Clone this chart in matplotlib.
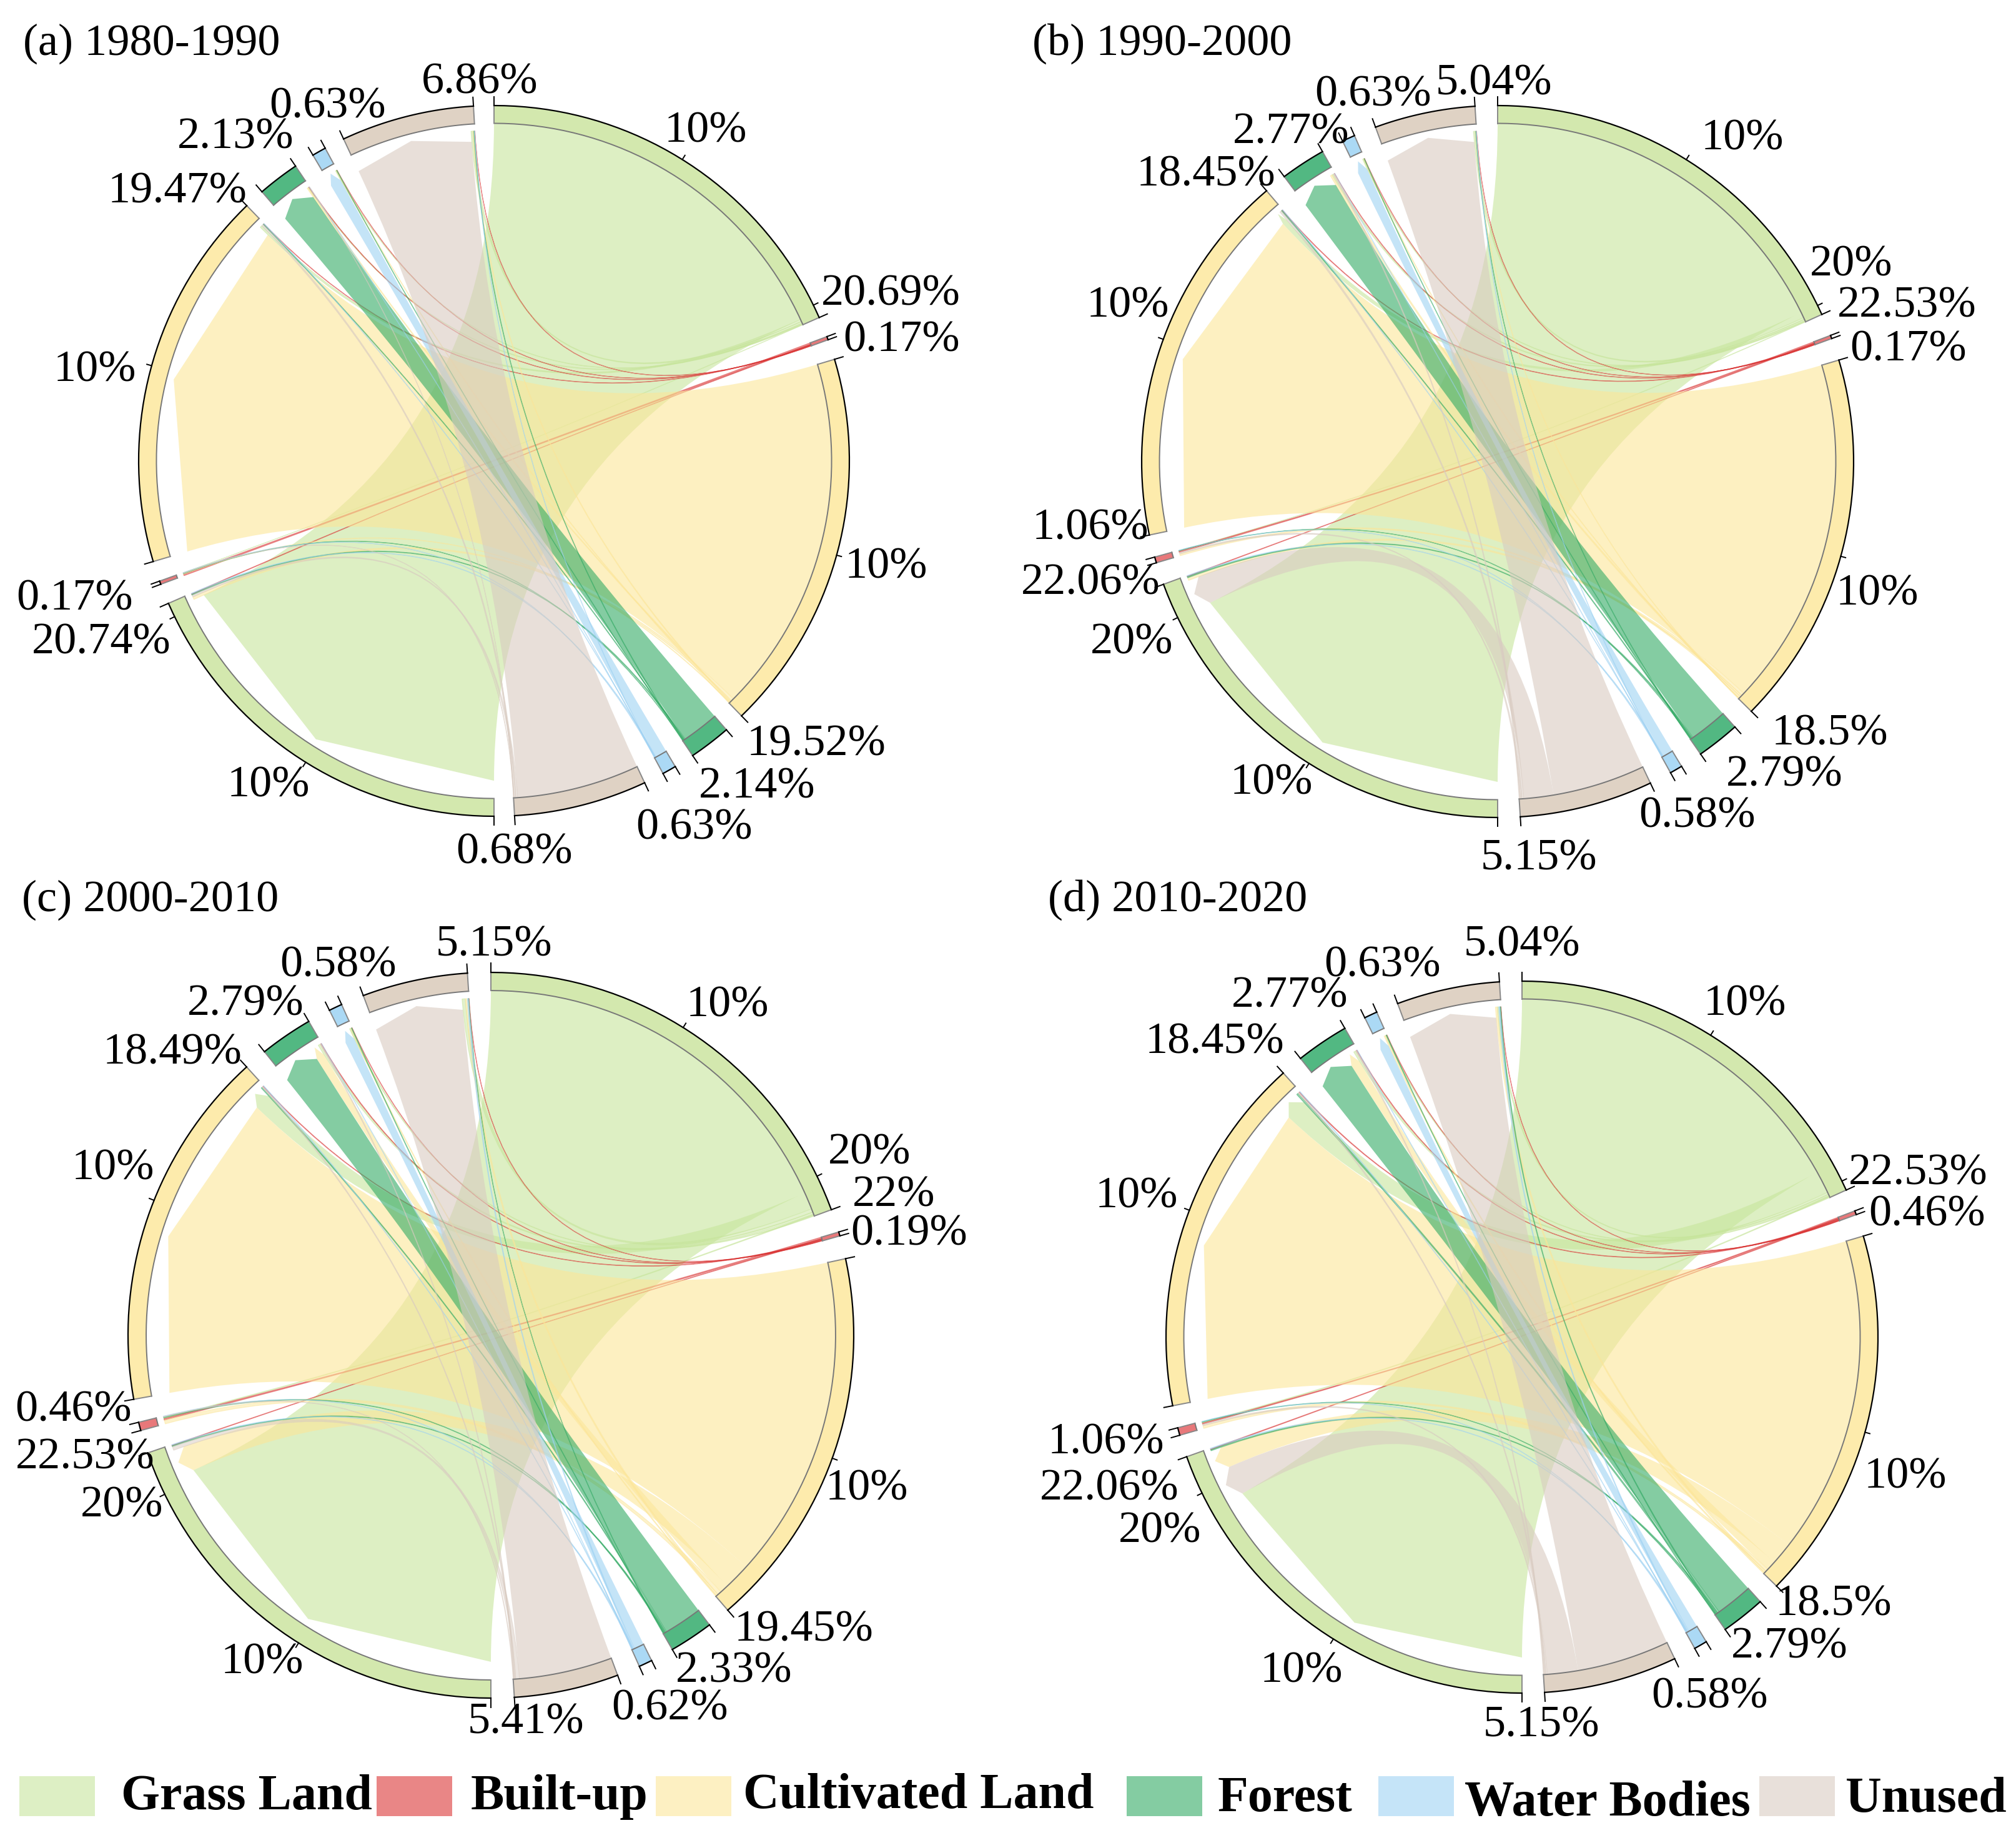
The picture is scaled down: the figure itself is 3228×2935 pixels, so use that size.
import numpy as np
import matplotlib
matplotlib.use('Agg')
import matplotlib.pyplot as plt
from matplotlib.path import Path
from matplotlib.patches import PathPatch, Rectangle

plt.rcParams['font.family'] = ['Liberation Serif', 'DejaVu Serif']

classes = ['Grass Land', 'Built-up', 'Cultivated Land', 'Forest', 'Water Bodies', 'Unused']
ring_colors = ['#D3E8AE', '#E8787A', '#FDEBAC', '#52B882', '#ABD9F5', '#DFD2C4']
chord_colors = ['#C7E59B', '#DA3535', '#FCE699', '#32AA64', '#9ED2F3', '#D9CBC1']
legend_colors = ['#DDEFC4', '#E98686', '#FDF0C2', '#84CCA2', '#C5E4F8', '#E8E0DA']

# rows: sectors on the right half, columns: sectors on the left half (% of area)
flow_a = [[20.38, .01, .12, .05, .03, .10],
          [.03, .08, .02, .02, .01, .01],
          [.15, .03, 19.2, .06, .03, .05],
          [.05, .02, .04, 1.98, .02, .03],
          [.03, .01, .02, .01, .62, .02],
          [.10, .02, .09, .01, 0, 6.58]]
flow_b = [[19.95, .02, .30, .08, .05, .10],
          [.03, .07, .03, .02, .01, .01],
          [.15, .10, 18.7, .10, .03, .02],
          [.06, .02, .05, 2.03, .02, .02],
          [.03, .01, .02, .01, .55, .02],
          [1.6, .08, .10, .06, 0, 4.96]]
flow_c = [[20.5, .05, .90, .12, .05, .18],
          [.03, .08, .03, .03, .015, .015],
          [1.4, .20, 17.0, .45, .05, .10],
          [.05, .04, .06, 2.0, .03, .02],
          [.03, .02, .03, .01, .52, .06],
          [.20, .03, .06, .04, 0, 4.9]]
flow_d = [[19.0, .05, 1.2, .12, .05, .08],
          [.04, .06, .04, .03, .015, .015],
          [1.2, .15, 17.0, .50, .07, .10],
          [.06, .03, .10, 1.98, .03, .05],
          [.04, .02, .03, .02, .50, .06],
          [1.65, .08, .07, .05, 0, 4.95]]

labels_a = ['10%', '20.69%', '0.17%', '10%', '19.52%', '2.14%', '0.63%', '0.68%',
            '10%', '20.74%', '0.17%', '10%', '19.47%', '2.13%', '0.63%', '6.86%']
labels_b = ['10%', '20%', '22.53%', '0.17%', '10%', '18.5%', '2.79%', '0.58%', '5.15%',
            '10%', '20%', '22.06%', '1.06%', '10%', '18.45%', '2.77%', '0.63%', '5.04%']
labels_c = ['10%', '20%', '22%', '0.19%', '10%', '19.45%', '2.33%', '0.62%', '5.41%',
            '10%', '20%', '22.53%', '0.46%', '10%', '18.49%', '2.79%', '0.58%', '5.15%']
labels_d = ['10%', '22.53%', '0.46%', '10%', '18.5%', '2.79%', '0.58%', '5.15%',
            '10%', '20%', '22.06%', '1.06%', '10%', '18.45%', '2.77%', '0.63%', '5.04%']

# label centres, read at 1568 px image width
label_xy_a = [(549, 99), (693, 226), (701, 262), (689, 438), (635, 576), (589, 609), (540, 641), (400, 660),
              (209, 608), (79, 497), (58, 463), (74, 285), (138, 146), (183, 104), (255, 80), (373, 61)]
label_xy_b = [(1355, 105), (1440, 203), (1483, 235), (1484, 269), (1460, 459), (1423, 568), (1388, 600),
              (1320, 632), (1197, 665), (989, 606), (880, 497), (848, 451), (848, 408), (877, 235),
              (938, 133), (1004, 100), (1068, 71), (1162, 62)]
label_xy_c = [(566, 779), (676, 894), (695, 927), (707, 957), (674, 1155), (625, 1265), (571, 1297),
              (521, 1326), (409, 1337), (204, 1290), (95, 1168), (66, 1131), (57, 1094), (88, 906),
              (134, 816), (191, 778), (263, 748), (384, 732)]
label_xy_d = [(1357, 778), (1492, 910), (1499, 942), (1482, 1146), (1426, 1245), (1392, 1278), (1330, 1317),
              (1199, 1339), (1012, 1297), (902, 1188), (863, 1155), (860, 1119), (884, 928), (945, 808),
              (1003, 772), (1075, 748), (1184, 732)]

titles = ['(a) 1980-1990', '(b) 1990-2000', '(c) 2000-2010', '(d) 2010-2020']
title_xy = [(18, 31), (803, 31), (17, 697), (815, 697)]
centers = [(791, 738), (2398, 739), (786, 2138), (2437, 2141)]
radii = [569, 570, 581, 570]

scale = 3.2  # degrees per percent
k = 3228 / 1568
dy = 6  # va='center' sits a bit high

fig = plt.figure(figsize=(32.28, 29.35), dpi=100)
ax = fig.add_axes([0, 0, 1, 1])
ax.set_xlim(0, 3228)
ax.set_ylim(2935, 0)
ax.axis('off')


def pt(c, R, theta, r):
    t = np.radians(theta)
    return (c[0] + R * r * np.sin(t), c[1] - R * r * np.cos(t))


def arc(c, R, t0, t1, r, n=40):
    return [pt(c, R, t, r) for t in np.linspace(t0, t1, n)]


def draw_sector(c, R, t0, t1, color, size):
    outer = arc(c, R, t0, t1, 1.0)
    inner = arc(c, R, t1, t0, 0.95)
    verts = outer + inner + [outer[0]]
    ax.add_patch(PathPatch(Path(verts), fc=color, ec='none', zorder=3))
    ax.plot(*zip(*inner), color='#777777', lw=1.4, zorder=4)
    for t in (t0, t1):
        ax.plot(*zip(pt(c, R, t, 0.95), pt(c, R, t, 1.0)), color='#888888', lw=1.4, zorder=4)
        ax.plot(*zip(pt(c, R, t, 1.0), pt(c, R, t, 1.025)), color='black', lw=1.4, zorder=4)
    ax.plot(*zip(*outer), color='black', lw=1.6, zorder=4)
    for mark in (10, 20):
        if size > mark:
            t = t0 + mark * scale
            ax.plot(*zip(pt(c, R, t, 1.0), pt(c, R, t, 1.014)), color='black', lw=1.4, zorder=4)


def draw_chord(c, R, a0, a1, b0, b1, color, value):
    verts = arc(c, R, a0, a1, 0.95, 20)
    codes = [Path.MOVETO] + [Path.LINETO] * (len(verts) - 1)
    if value >= 0.25:
        end = [pt(c, R, b0, 0.90), pt(c, R, (b0 + b1) / 2, 0.93), pt(c, R, b1, 0.90)]
    else:
        end = [pt(c, R, b0, 0.93), pt(c, R, b1, 0.93)]
    verts += [c, end[0]]
    codes += [Path.CURVE3, Path.CURVE3]
    verts += end[1:]
    codes += [Path.LINETO] * (len(end) - 1)
    verts += [c, verts[0]]
    codes += [Path.CURVE3, Path.CURVE3]
    if value >= 0.25:
        ax.add_patch(PathPatch(Path(verts, codes), fc=color, ec='none', alpha=0.6, zorder=2))
    else:
        ax.add_patch(PathPatch(Path(verts, codes), fc=color, ec=color, lw=0.9, alpha=0.5, zorder=2))


def draw_panel(flow, c, R):
    flow = np.array(flow)
    right = flow.sum(axis=1)
    left = flow.sum(axis=0)
    gap = (360 - scale * (right.sum() + left.sum())) / 12
    starts_r, starts_l = [], []
    t = 0.0
    for i in range(6):
        starts_r.append(t)
        draw_sector(c, R, t, t + right[i] * scale, ring_colors[i], right[i])
        t += right[i] * scale + gap
    for j in range(6):
        starts_l.append(t)
        draw_sector(c, R, t, t + left[j] * scale, ring_colors[j], left[j])
        t += left[j] * scale + gap

    # within a sector the biggest flow comes first
    pos_r = {}
    for i in range(6):
        t = starts_r[i]
        for j in sorted(range(6), key=lambda q: -flow[i, q]):
            pos_r[i, j] = (t, t + flow[i, j] * scale)
            t += flow[i, j] * scale
    pos_l = {}
    for j in range(6):
        t = starts_l[j]
        for i in sorted(range(6), key=lambda q: -flow[q, j]):
            pos_l[i, j] = (t, t + flow[i, j] * scale)
            t += flow[i, j] * scale
    for i in range(6):
        for j in range(6):
            if flow[i, j] > 0:
                draw_chord(c, R, *pos_r[i, j], *pos_l[i, j], chord_colors[i], flow[i, j])


flows = [flow_a, flow_b, flow_c, flow_d]
all_labels = [labels_a, labels_b, labels_c, labels_d]
all_xy = [label_xy_a, label_xy_b, label_xy_c, label_xy_d]

for n in range(4):
    draw_panel(flows[n], centers[n], radii[n])
    for s, (x, y) in zip(all_labels[n], all_xy[n]):
        ax.text(x * k, y * k + dy, s, fontsize=52, ha='center', va='center', zorder=6)
    ax.text(title_xy[n][0] * k, title_xy[n][1] * k + dy, titles[n], fontsize=52, ha='left', va='center', zorder=6)

# legend
patch_x = [31, 603, 1050, 1804, 2207, 2817]
text_x = [194, 754, 1190, 1950, 2345, 2955]
text_y = [2897, 2897, 2895, 2900, 2907, 2901]
for i in range(6):
    ax.add_patch(Rectangle((patch_x[i], 2844), 121, 64, fc=legend_colors[i], ec='none'))
    ax.text(text_x[i], text_y[i], classes[i], fontsize=57.5, fontweight='bold', ha='left', va='baseline')

fig.savefig('out.png', dpi=100)
